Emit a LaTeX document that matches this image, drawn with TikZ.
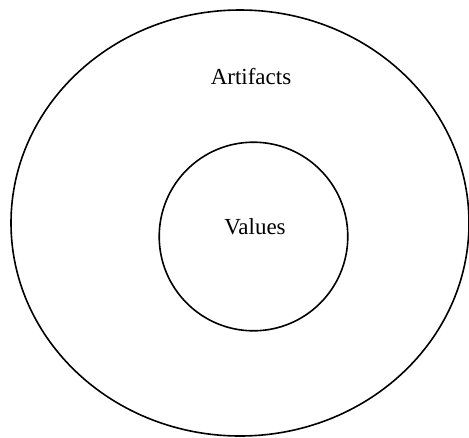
\documentclass[tikz,border=0pt]{standalone}
\usepackage{fontspec}
\setmainfont{Liberation Serif}
\begin{document}
\begin{tikzpicture}[x=1pt,y=-1pt,
  ring/.style={draw=black,line width=1.6pt},
  lbl/.style={font=\fontsize{23}{26}\selectfont,inner sep=0pt}]
\useasboundingbox (0,0) rectangle (469,437);
\draw[ring] (240,223) ellipse [x radius=229, y radius=213];
\draw[ring] (253.5,236.5) circle [radius=94.3];
\node[lbl] (art) at (251,77) {Artifacts};
\node[lbl] (val) at (255,227) {Values};
\end{tikzpicture}
\end{document}
